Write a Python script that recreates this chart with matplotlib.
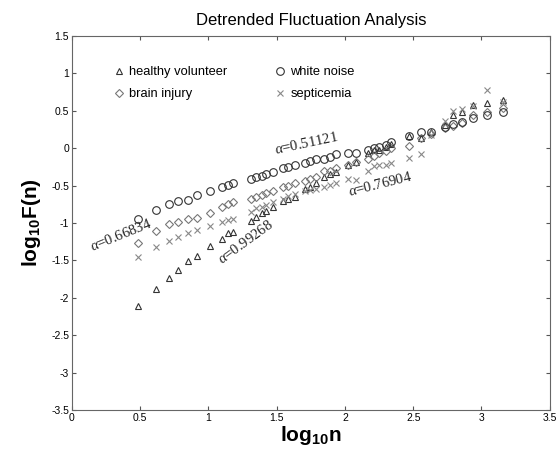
import matplotlib as mpl
mpl.use('Agg')
import matplotlib.pyplot as plt
import numpy as np

plt.rcParams['font.family'] = ['Liberation Sans', 'DejaVu Sans']
plt.rcParams['mathtext.fontset'] = 'custom'
plt.rcParams['mathtext.rm'] = 'Liberation Sans'
plt.rcParams['mathtext.bf'] = 'Liberation Sans:bold'
plt.rcParams['mathtext.it'] = 'Liberation Serif:italic'

# log10 n, shared by all four series
logn = np.array([0.485, 0.615, 0.71, 0.78, 0.854, 0.915, 1.01, 1.10, 1.14, 1.18,
                 1.315, 1.352, 1.389, 1.425, 1.474, 1.547, 1.584, 1.632, 1.706, 1.742,
                 1.79, 1.85, 1.889, 1.937, 2.02, 2.08, 2.17, 2.21, 2.25, 2.30,
                 2.34, 2.47, 2.56, 2.63, 2.73, 2.79, 2.86, 2.94, 3.04, 3.16])

healthy = np.array([-2.11, -1.88, -1.73, -1.63, -1.51, -1.44, -1.31, -1.21, -1.14, -1.12,
                    -0.97, -0.92, -0.87, -0.84, -0.79, -0.71, -0.68, -0.65, -0.55, -0.52,
                    -0.47, -0.38, -0.35, -0.32, -0.23, -0.19, -0.06, -0.03, -0.02, 0.02,
                    0.06, 0.16, 0.14, 0.22, 0.31, 0.44, 0.49, 0.58, 0.61, 0.64])

white = np.array([-0.95, -0.82, -0.75, -0.71, -0.69, -0.62, -0.57, -0.52, -0.49, -0.47,
                  -0.405, -0.39, -0.375, -0.35, -0.32, -0.27, -0.25, -0.23, -0.20, -0.17,
                  -0.15, -0.14, -0.12, -0.08, -0.07, -0.06, -0.03, 0.0, 0.02, 0.04,
                  0.08, 0.16, 0.22, 0.22, 0.28, 0.33, 0.35, 0.40, 0.44, 0.49])

brain = np.array([-1.27, -1.11, -1.01, -0.98, -0.95, -0.93, -0.86, -0.79, -0.74, -0.72,
                  -0.68, -0.65, -0.62, -0.60, -0.57, -0.52, -0.50, -0.46, -0.44, -0.41,
                  -0.39, -0.31, -0.30, -0.26, -0.22, -0.18, -0.15, -0.10, -0.07, -0.04,
                  0.0, 0.03, 0.14, 0.19, 0.27, 0.30, 0.34, 0.45, 0.48, 0.54])

septic = np.array([-1.46, -1.32, -1.24, -1.19, -1.13, -1.10, -1.04, -0.99, -0.96, -0.95,
                   -0.85, -0.80, -0.78, -0.76, -0.72, -0.68, -0.64, -0.61, -0.57, -0.56,
                   -0.54, -0.52, -0.49, -0.47, -0.41, -0.42, -0.30, -0.24, -0.22, -0.23,
                   -0.20, -0.13, -0.08, 0.18, 0.37, 0.50, 0.53, 0.57, 0.78, 0.62])

alpha_labels = ['=0.66834', '=0.51121', '=0.99268', '=0.76904']
alpha_pos = [(0.15, -1.37, 22), (1.49, -0.08, 12), (1.10, -1.55, 36), (2.03, -0.64, 14)]

fig = plt.figure(figsize=(5.57, 4.57), dpi=100)
ax = fig.add_axes([0.129, 0.103, 0.858, 0.818])

ax.plot(logn, healthy, '^', mfc='none', mec='#333333', ms=5, mew=0.8, label='healthy volunteer')
ax.plot(logn, brain, 'D', mfc='none', mec='#777777', ms=4.2, mew=0.8, label='brain injury')
ax.plot(logn, white, 'o', mfc='none', mec='#333333', ms=5.5, mew=0.8, label='white noise')
ax.plot(logn, septic, 'x', color='#888888', ms=4.5, mew=0.8, label='septicemia')

for lab, (x, y, rot) in zip(alpha_labels, alpha_pos):
    ax.text(x, y, r'$\alpha$' + lab, rotation=rot, rotation_mode='anchor', fontsize=10.5,
            family='Liberation Serif', color='#222222')

ax.set_xlim(0, 3.5)
ax.set_ylim(-3.5, 1.5)
ax.set_xticks(np.arange(0, 3.51, 0.5))
ax.set_yticks(np.arange(-3.5, 1.51, 0.5))
ax.set_xticklabels(['0', '0.5', '1', '1.5', '2', '2.5', '3', '3.5'])
ax.set_yticklabels(['-3.5', '-3', '-2.5', '-2', '-1.5', '-1', '-0.5', '0', '0.5', '1', '1.5'])
ax.tick_params(direction='in', top=True, right=True, labelsize=7.5, length=3, pad=2, color='#555555')
for s in ax.spines.values():
    s.set_color('#666666')

ax.set_title('Detrended Fluctuation Analysis', fontsize=12, pad=8)
ax.set_xlabel(r'$\mathbf{log_{10}n}$', fontsize=15, labelpad=1)
ax.set_ylabel(r'$\mathbf{log_{10}F(n)}$', fontsize=15, labelpad=6)

ax.legend(ncol=2, loc='upper left', bbox_to_anchor=(0.06, 0.95), frameon=False,
          fontsize=9.3, handletextpad=0.3, columnspacing=3.6, labelspacing=0.75,
          handlelength=1.0)

plt.savefig('out.png', dpi=100)
